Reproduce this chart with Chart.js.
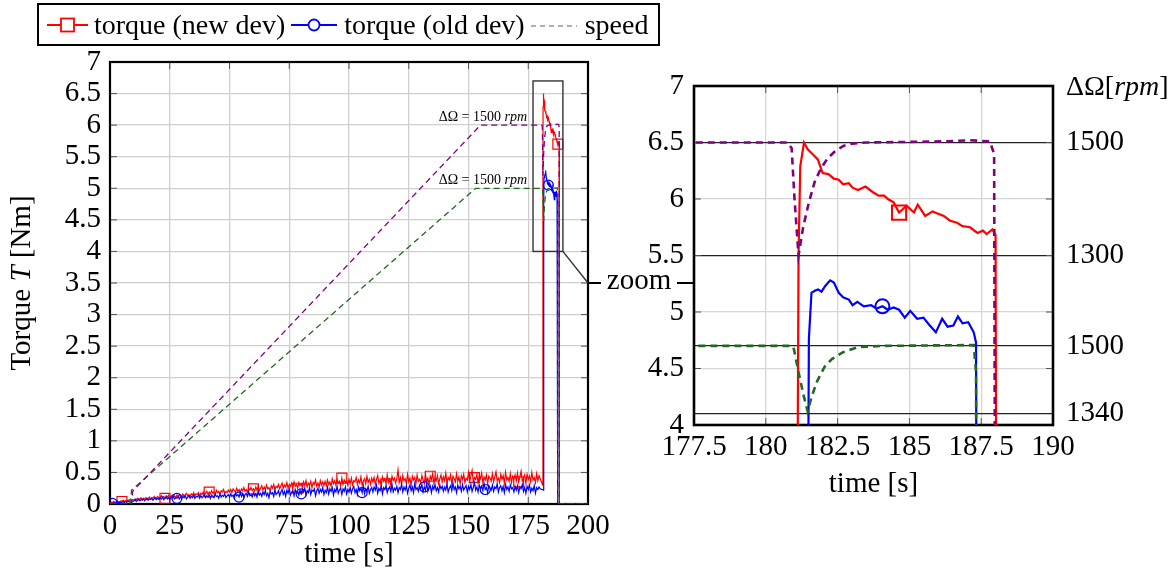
<!DOCTYPE html>
<html>
<head>
<meta charset="utf-8">
<script src="https://cdn.jsdelivr.net/npm/chart.js@4.4.1/dist/chart.umd.min.js"></script>
<style>
  body { margin: 0; background: #fff; width: 1175px; height: 581px; overflow: hidden; position: relative; font-family: 'Liberation Serif', serif; }
  canvas { position: absolute; top: 0; }
  #leftChart { left: 0; }
  #rightChart { left: 600px; }
  #legend { position: absolute; left: 37px; top: 3px; width: 619px; height: 39px; border: 2px solid #000; z-index: 5;
            display: flex; align-items: center; font-size: 28px; color: #000; box-sizing: content-box; }
  #legend span { white-space: nowrap; }
  #legend svg { flex: none; }
</style>
</head>
<body>
<div id="legend">
  <svg width="41" height="20" style="margin-left:8px;margin-right:6px"><line x1="0" y1="10" x2="41" y2="10" stroke="#ff0000" stroke-width="1.8"/><rect x="14" y="3.5" width="13" height="13" fill="#fff" stroke="#ff0000" stroke-width="1.8"/></svg>
  <span>torque (new dev)</span>
  <svg width="46" height="20" style="margin-left:6px;margin-right:7px"><line x1="0" y1="10" x2="46" y2="10" stroke="#0000ff" stroke-width="1.8"/><circle cx="23" cy="10" r="5.5" fill="#fff" stroke="#0000ff" stroke-width="1.8"/></svg>
  <span>torque (old dev)</span>
  <svg width="46" height="20" style="margin-left:6px;margin-right:8px"><line x1="0" y1="11" x2="46" y2="11" stroke="#3c7a3c" stroke-width="1.2" stroke-dasharray="5,4"/></svg>
  <span>speed</span>
</div>
<canvas id="leftChart" width="700" height="581"></canvas>
<canvas id="rightChart" width="575" height="581"></canvas>
<script>
// torque while speeding up, sampled every 0.5 s from 0 s to 180 s [Nm]
const sampleStep = 0.5;
const newDevLow = [
  0.02,0.03,0.02,0.04,0.03,0.03,0.05,0.04,0.03,0.05,0.04,0.06,0.04,0.05,0.06,0.05,0.07,0.05,0.06,0.07,
  0.06,0.08,0.07,0.09,0.06,0.08,0.10,0.07,0.09,0.08,0.10,0.07,0.09,0.11,0.08,0.10,0.09,0.12,0.08,0.10,
  0.12,0.09,0.11,0.13,0.10,0.12,0.09,0.13,0.11,0.14,0.10,0.12,0.14,0.11,0.13,0.10,0.14,0.12,0.15,0.11,
  0.13,0.16,0.12,0.15,0.17,0.13,0.15,0.12,0.16,0.14,0.18,0.13,0.16,0.15,0.18,0.13,0.17,0.15,0.19,0.14,
  0.17,0.20,0.15,0.19,0.16,0.21,0.17,0.19,0.15,0.22,0.18,0.20,0.16,0.21,0.19,0.23,0.17,0.20,0.18,0.22,
  0.19,0.23,0.18,0.24,0.21,0.19,0.25,0.20,0.23,0.18,0.24,0.21,0.26,0.20,0.23,0.19,0.25,0.22,0.26,0.21,
  0.24,0.20,0.27,0.22,0.28,0.21,0.25,0.29,0.22,0.27,0.23,0.30,0.24,0.26,0.21,0.29,0.25,0.31,0.23,0.28,
  0.26,0.31,0.24,0.29,0.33,0.25,0.30,0.27,0.34,0.25,0.31,0.28,0.33,0.26,0.35,0.28,0.31,0.25,0.34,0.29,
  0.32,0.26,0.35,0.29,0.37,0.27,0.33,0.30,0.36,0.26,0.34,0.31,0.38,0.28,0.33,0.27,0.37,0.30,0.35,0.29,
  0.36,0.29,0.38,0.31,0.35,0.28,0.40,0.32,0.37,0.30,0.39,0.33,0.36,0.29,0.41,0.31,0.38,0.34,0.37,0.30,
  0.39,0.32,0.41,0.30,0.37,0.35,0.42,0.31,0.38,0.33,0.43,0.30,0.36,0.40,0.32,0.44,0.34,0.39,0.31,0.41,
  0.35,0.42,0.31,0.39,0.45,0.33,0.38,0.30,0.43,0.36,0.40,0.32,0.46,0.34,0.39,0.31,0.44,0.37,0.41,0.33,
  0.40,0.54,0.34,0.42,0.31,0.45,0.37,0.40,0.33,0.47,0.35,0.41,0.30,0.44,0.38,0.42,0.32,0.46,0.36,0.39,
  0.34,0.45,0.38,0.32,0.47,0.36,0.41,0.31,0.44,0.39,0.48,0.33,0.42,0.37,0.45,0.32,0.40,0.46,0.35,0.43,
  0.37,0.49,0.33,0.42,0.38,0.46,0.31,0.44,0.40,0.35,0.48,0.36,0.43,0.32,0.45,0.39,0.47,0.34,0.41,0.38,
  0.50,0.36,0.44,0.53,0.35,0.42,0.39,0.47,0.33,0.45,0.40,0.49,0.34,0.43,0.38,0.46,0.32,0.44,0.41,0.36,
  0.48,0.35,0.43,0.51,0.37,0.41,0.34,0.47,0.39,0.45,0.33,0.50,0.38,0.42,0.36,0.48,0.34,0.44,0.40,0.46,
  0.37,0.49,0.35,0.43,0.52,0.36,0.41,0.46,0.33,0.47,0.39,0.44,0.35,0.50,0.38,0.42,0.34,0.48,0.37,0.45,
  0.40
];
const oldDevLow = [
  0.00,0.01,0.01,0.02,0.01,0.02,0.03,0.02,0.03,0.02,0.03,0.04,0.02,0.04,0.03,0.05,0.03,0.04,0.05,0.04,
  0.05,0.07,0.04,0.06,0.08,0.05,0.07,0.06,0.08,0.05,0.07,0.09,0.06,0.08,0.07,0.09,0.06,0.08,0.10,0.07,
  0.09,0.07,0.10,0.08,0.11,0.07,0.09,0.11,0.08,0.10,0.07,0.11,0.09,0.12,0.08,0.10,0.09,0.12,0.08,0.11,
  0.09,0.12,0.10,0.13,0.08,0.11,0.13,0.09,0.12,0.10,0.14,0.09,0.12,0.11,0.14,0.09,0.13,0.10,0.12,0.15,
  0.10,0.13,0.11,0.15,0.09,0.14,0.12,0.10,0.15,0.12,0.13,0.09,0.16,0.11,0.14,0.12,0.16,0.10,0.13,0.15,
  0.11,0.16,0.12,0.14,0.09,0.17,0.13,0.15,0.11,0.18,0.12,0.16,0.10,0.15,0.17,0.12,0.19,0.13,0.15,0.11,
  0.18,0.13,0.16,0.11,0.20,0.14,0.17,0.12,0.19,0.15,0.21,0.13,0.17,0.10,0.20,0.16,0.18,0.12,0.22,0.15,
  0.17,0.21,0.13,0.19,0.23,0.15,0.20,0.12,0.22,0.17,0.24,0.14,0.19,0.21,0.13,0.23,0.18,0.20,0.14,0.22,
  0.16,0.23,0.19,0.25,0.14,0.21,0.18,0.26,0.15,0.22,0.20,0.24,0.13,0.21,0.25,0.17,0.23,0.19,0.26,0.15,
  0.22,0.18,0.27,0.16,0.24,0.20,0.26,0.14,0.23,0.19,0.28,0.17,0.22,0.25,0.15,0.24,0.20,0.27,0.16,0.23,
  0.19,0.26,0.17,0.24,0.28,0.18,0.23,0.15,0.27,0.21,0.25,0.18,0.29,0.16,0.24,0.20,0.28,0.17,0.23,0.26,
  0.19,0.27,0.22,0.30,0.17,0.25,0.21,0.28,0.16,0.26,0.23,0.29,0.18,0.24,0.27,0.20,0.31,0.19,0.25,0.22,
  0.28,0.18,0.26,0.23,0.31,0.19,0.27,0.22,0.29,0.17,0.25,0.30,0.21,0.27,0.18,0.32,0.23,0.26,0.20,0.29,
  0.24,0.31,0.19,0.27,0.22,0.33,0.20,0.26,0.29,0.18,0.28,0.23,0.31,0.21,0.26,0.19,0.30,0.24,0.28,0.20,
  0.27,0.22,0.32,0.19,0.25,0.29,0.21,0.33,0.23,0.27,0.18,0.30,0.24,0.28,0.20,0.31,0.22,0.26,0.29,0.19,
  0.28,0.23,0.31,0.20,0.26,0.34,0.22,0.27,0.19,0.30,0.24,0.28,0.21,0.33,0.23,0.26,0.18,0.29,0.25,0.22,
  0.30,0.20,0.27,0.24,0.32,0.19,0.26,0.29,0.21,0.28,0.18,0.31,0.23,0.27,0.20,0.30,0.24,0.26,0.19,0.28,
  0.22,0.29,0.18,0.27,0.24,0.31,0.20,0.26,0.17,0.28,0.23,0.30,0.19,0.25,0.21,0.29,0.17,0.26,0.23,0.27,
  0.24
];

// torque at constant speed (the zoomed part) [s], [Nm]
const newDevSpikeT = [181.05,181.14,181.2,181.33,181.46,181.66,181.81,181.98,182.18,182.37,182.54,182.69,182.89,183.02,183.21,183.47,183.73,183.93,184.12,184.25,184.45,184.64,184.9,185.16,185.29,185.55,185.81,186.0,186.2,186.4,186.66,186.85,187.11,187.37,187.56,187.69,187.89,188.0,188.05,200];
const newDevSpikeV = [0.30,5.5,6.29,6.5,6.44,6.39,6.35,6.23,6.22,6.18,6.17,6.13,6.14,6.1,6.08,6.11,6.06,6.03,6.03,6.0,5.97,5.88,5.94,5.88,5.95,5.85,5.89,5.87,5.85,5.81,5.79,5.76,5.75,5.7,5.72,5.69,5.73,5.68,0,0];
const oldDevSpikeT = [181.4,181.44,181.5,181.59,181.72,181.82,181.94,182.07,182.24,182.37,182.54,182.69,182.89,183.02,183.19,183.41,183.67,183.86,184.06,184.25,184.45,184.64,184.84,185.03,185.27,185.49,185.68,185.92,186.14,186.33,186.53,186.69,186.85,187.05,187.24,187.32,187.37,200];
const oldDevSpikeV = [0.22,1.5,4.76,5.17,5.19,5.2,5.18,5.23,5.28,5.26,5.17,5.13,5.11,5.06,5.09,5.05,5.06,5.03,5.05,5.02,5.04,5.02,4.95,5.01,4.94,4.95,4.89,4.82,4.94,4.87,4.88,4.96,4.9,4.91,4.82,4.73,0,0];

// speed difference [rpm]
const speedNewT   = [0,9,9.5,155,180.75,180.9,181.0,181.14,181.3,181.5,181.7,181.9,182.15,182.4,182.7,183.0,183.5,186.2,187.1,187.8,187.95,188.02,200];
const speedNewRpm = [0,0,50,1500,1500,1490,1400,1300,1350,1394,1430,1452,1472,1484,1494,1498,1500,1502,1504,1502,1480,0,0];
const speedOldT   = [0,8.5,9,153,180.92,180.98,181.14,181.33,181.46,181.59,181.79,182.05,182.3,182.69,183.21,184.0,187.24,187.32,187.37,200];
const speedOldRpm = [0,0,66,1500,1500,1492,1438,1379,1345,1379,1417,1451,1469,1485,1497,1500,1502,1438,0,0];

// tick labels
const leftTimeTicks = [0, 200, 25];
const zoomTimeTicks = [177.5, 190, 2.5];
const rpmTickPos = [4.1, 4.7, 5.5, 6.5];
const rpmTickLabels = ['1340', '1500', '1300', '1500'];

// which samples carry a marker
const leftNewMarks = [5, 23, 41.5, 60, 78.5, 97, 115.5, 134, 152.5, 171, 187.37];
const leftOldMarks = [1, 28, 54, 80, 105.5, 131.5, 157, 183.41];
const zoomNewMarks = [184.64];
const zoomOldMarks = [184.06];

const lowTime = newDevLow.map((_, i) => i * sampleStep);
function toPoints(ts, vs) { return ts.map((t, i) => ({ x: t, y: vs[i] })); }
const newDevData = toPoints(lowTime, newDevLow).concat(toPoints(newDevSpikeT, newDevSpikeV));
const oldDevData = toPoints(lowTime, oldDevLow).concat(toPoints(oldDevSpikeT, oldDevSpikeV));

const RED = '#ff0000', BLUE = '#0000ff', PURPLE = '#800080', GREEN = '#1f6b1f';
const SERIF = "'Liberation Serif', 'DejaVu Serif', serif";
const FS = 29;
Chart.defaults.font.family = SERIF;
Chart.defaults.color = '#000';

function datasets(big, newMarks, oldMarks, mapNew, mapOld) {
  const lw = big ? 2.2 : 1.2;
  return [
    { label: 'speed', data: speedNewT.map((t, i) => ({ x: t, y: mapNew(speedNewRpm[i]) })),
      borderColor: PURPLE, borderWidth: big ? 2.6 : 1.3, borderDash: big ? [7, 5] : [6, 4], pointRadius: 0, order: 0 },
    { label: 'speed (old)', data: speedOldT.map((t, i) => ({ x: t, y: mapOld(speedOldRpm[i]) })),
      borderColor: GREEN, borderWidth: big ? 2.6 : 1.3, borderDash: big ? [7, 5] : [6, 4], pointRadius: 0, order: 1 },
    { label: 'torque (old dev)', data: oldDevData, borderColor: BLUE, borderWidth: lw, order: 2,
      pointStyle: 'circle', pointBackgroundColor: 'rgba(0,0,0,0)', pointBorderColor: BLUE, pointBorderWidth: big ? 2 : 1.2,
      pointRadius: ctx => oldMarks.includes(ctx.raw.x) ? (big ? 7 : 5) : 0 },
    { label: 'torque (new dev)', data: newDevData, borderColor: RED, borderWidth: lw, order: 3,
      pointStyle: 'rect', pointBackgroundColor: 'rgba(0,0,0,0)', pointBorderColor: RED, pointBorderWidth: big ? 2 : 1.2,
      pointRadius: ctx => newMarks.includes(ctx.raw.x) ? (big ? 10 : 7) : 0 }
  ];
}

function framePlugin(lw, extra) {
  return {
    id: 'frame',
    beforeDatasetsDraw(chart) {
      const { ctx, chartArea: a } = chart;
      ctx.save();
      ctx.strokeStyle = '#555';
      ctx.lineWidth = 1;
      chart.scales.x.ticks.forEach(t => {
        const px = chart.scales.x.getPixelForValue(t.value);
        ctx.beginPath(); ctx.moveTo(px, a.top); ctx.lineTo(px, a.top + 7);
        ctx.moveTo(px, a.bottom); ctx.lineTo(px, a.bottom - 7); ctx.stroke();
      });
      chart.scales.y.ticks.forEach(t => {
        const py = chart.scales.y.getPixelForValue(t.value);
        ctx.beginPath(); ctx.moveTo(a.left, py); ctx.lineTo(a.left + 7, py);
        ctx.moveTo(a.right, py); ctx.lineTo(a.right - 7, py); ctx.stroke();
      });
      ctx.strokeStyle = '#000';
      ctx.lineWidth = lw;
      ctx.strokeRect(a.left, a.top, a.right - a.left, a.bottom - a.top);
      ctx.restore();
    },
    afterDraw(chart) { if (extra) extra(chart); }
  };
}

function mixedText(ctx, parts, x, y, align) {
  const widths = parts.map(p => { ctx.font = p[1]; return ctx.measureText(p[0]).width; });
  const total = widths.reduce((s, w) => s + w, 0);
  let cx = align === 'right' ? x - total : align === 'center' ? x - total / 2 : x;
  ctx.textAlign = 'left';
  parts.forEach((p, i) => { ctx.font = p[1]; ctx.fillText(p[0], cx, y); cx += widths[i]; });
}

function leftExtras(chart) {
  const { ctx, chartArea: a } = chart;
  const xs = chart.scales.x, ys = chart.scales.y;
  ctx.save();
  ctx.fillStyle = '#000';
  // annotations
  ctx.textBaseline = 'alphabetic';
  mixedText(ctx, [['ΔΩ = 1500 ', '14px ' + SERIF], ['rpm', 'italic 14px ' + SERIF]], xs.getPixelForValue(174.5), ys.getPixelForValue(6.0) - 4, 'right');
  mixedText(ctx, [['ΔΩ = 1500 ', '14px ' + SERIF], ['rpm', 'italic 14px ' + SERIF]], xs.getPixelForValue(174.5), ys.getPixelForValue(5.0) - 4, 'right');
  // zoom box and connector
  ctx.strokeStyle = '#333';
  ctx.lineWidth = 1.4;
  const bx0 = xs.getPixelForValue(177), bx1 = xs.getPixelForValue(189.5);
  const by0 = ys.getPixelForValue(6.7), by1 = ys.getPixelForValue(4);
  ctx.strokeRect(bx0, by0, bx1 - bx0, by1 - by0);
  const cy = ys.getPixelForValue(3.5);
  ctx.beginPath(); ctx.moveTo(bx1, by1); ctx.lineTo(a.right, cy); ctx.stroke();
  ctx.strokeStyle = '#000';
  ctx.lineWidth = 2;
  ctx.beginPath(); ctx.moveTo(a.right, cy); ctx.lineTo(a.right + 13, cy);
  ctx.moveTo(a.right + 89, cy); ctx.lineTo(a.right + 106, cy); ctx.stroke();
  ctx.font = FS + 'px ' + SERIF;
  ctx.textAlign = 'center';
  ctx.textBaseline = 'middle';
  ctx.fillText('zoom', a.right + 51, cy - 2);
  // y axis title with italic T
  ctx.translate(22, (a.top + a.bottom) / 2);
  ctx.rotate(-Math.PI / 2);
  mixedText(ctx, [['Torque ', FS + 'px ' + SERIF], ['T', 'italic ' + FS + 'px ' + SERIF], [' [Nm]', FS + 'px ' + SERIF]], 0, 0, 'center');
  ctx.restore();
}

function rightExtras(chart) {
  const { ctx, chartArea: a } = chart;
  ctx.save();
  ctx.fillStyle = '#000';
  ctx.textBaseline = 'middle';
  mixedText(ctx, [['ΔΩ[', '28px ' + SERIF], ['rpm', 'italic 28px ' + SERIF], [']', '28px ' + SERIF]], a.right + 13, a.top + 2, 'left');
  ctx.restore();
}

const plainNum = v => String(v);

new Chart(document.getElementById('leftChart'), {
  type: 'line',
  data: { datasets: datasets(false, leftNewMarks, leftOldMarks, r => r / 250, r => r / 300) },
  plugins: [framePlugin(2.2, leftExtras)],
  options: {
    responsive: false, animation: false,
    layout: { padding: { left: 0, right: 112, top: 62, bottom: 5 } },
    plugins: { legend: { display: false }, tooltip: { enabled: false } },
    elements: { line: { tension: 0 } },
    scales: {
      x: { type: 'linear', min: leftTimeTicks[0], max: leftTimeTicks[1],
           ticks: { stepSize: leftTimeTicks[2], font: { size: FS }, padding: 5, maxRotation: 0, autoSkip: false, callback: plainNum },
           grid: { color: '#cfcfcf', lineWidth: 1.3, drawTicks: false }, border: { display: false },
           title: { display: true, text: 'time [s]', font: { size: FS }, padding: { top: 0, bottom: 4 } },
           afterFit: s => { s.height = 72; } },
      y: { min: 0, max: 7,
           ticks: { stepSize: 0.5, font: { size: FS }, padding: 9, autoSkip: false, callback: plainNum },
           grid: { color: '#cfcfcf', lineWidth: 1.3, drawTicks: false }, border: { display: false },
           afterFit: s => { s.width = 110; } }
    }
  }
});

new Chart(document.getElementById('rightChart'), {
  type: 'line',
  data: { datasets: datasets(true, zoomNewMarks, zoomOldMarks,
          r => 6.5 + (r - 1500) * (6.5 - 5.5) / 200, r => 4.7 + (r - 1500) * (4.7 - 4.1) / 160) },
  plugins: [framePlugin(2.6, rightExtras)],
  options: {
    responsive: false, animation: false,
    layout: { padding: { left: 0, right: 0, top: 86, bottom: 75 } },
    plugins: { legend: { display: false }, tooltip: { enabled: false } },
    elements: { line: { tension: 0 } },
    scales: {
      x: { type: 'linear', min: zoomTimeTicks[0], max: zoomTimeTicks[1],
           ticks: { stepSize: zoomTimeTicks[2], font: { size: FS }, padding: 5, maxRotation: 0, autoSkip: false, callback: plainNum },
           grid: { color: '#d6d6d6', lineWidth: 1.3, drawTicks: false }, border: { display: false },
           title: { display: true, text: 'time [s]', font: { size: FS }, padding: { top: 0, bottom: 4 } },
           afterFit: s => { s.height = 81; } },
      y: { min: 4, max: 7,
           ticks: { stepSize: 0.5, font: { size: FS }, padding: 10, autoSkip: false, callback: plainNum },
           grid: { color: ctx => (ctx.tick && (ctx.tick.value === 6.5 || ctx.tick.value === 5.5)) ? 'rgba(0,0,0,0)' : '#d6d6d6',
                   lineWidth: 1.3, drawTicks: false }, border: { display: false },
           afterFit: s => { s.width = 94; } },
      y2: { position: 'right', min: 4, max: 7,
            afterBuildTicks: s => { s.ticks = rpmTickPos.map(v => ({ value: v })); },
            ticks: { font: { size: FS }, padding: 13, autoSkip: false, callback: v => rpmTickLabels[rpmTickPos.indexOf(v)] },
            grid: { color: '#222', lineWidth: 1.2, drawTicks: false }, border: { display: false },
            afterFit: s => { s.width = 122; } }
    }
  }
});
</script>
</body>
</html>
